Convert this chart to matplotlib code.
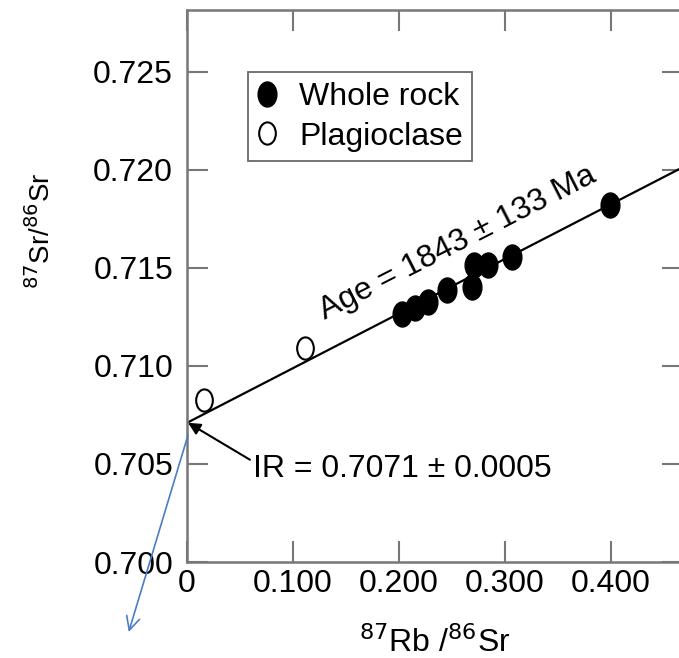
import numpy as np
import matplotlib
matplotlib.use("Agg")
import matplotlib.pyplot as plt
from matplotlib.path import Path
from matplotlib.transforms import Affine2D

plt.rcParams['font.family'] = ['Liberation Sans', 'DejaVu Sans']

# data
wr_x = [0.203, 0.2155, 0.227, 0.2457, 0.269, 0.271, 0.2836, 0.307, 0.399]
wr_y = [0.71265, 0.71296, 0.71327, 0.71388, 0.71403, 0.71515, 0.71515, 0.71556, 0.71821]
pl_x = [0.016, 0.1115]
pl_y = [0.70827, 0.71092]
fit_x = [0.0, 0.47]
fit_y = [0.7071, 0.72020]

xticks = [0, 0.1, 0.2, 0.3, 0.4]
xlabels = ['0', '0.100', '0.200', '0.300', '0.400']
yticks = [0.700, 0.705, 0.710, 0.715, 0.720, 0.725]
ylabels = ['0.700', '0.705', '0.710', '0.715', '0.720', '0.725']

# ellipse marker, taller than wide
ell = Path.unit_circle().transformed(Affine2D().scale(0.75, 1.0))

W, H = 679, 658
fig = plt.figure(figsize=(W / 100, H / 100), dpi=100)
ax = fig.add_axes([187 / W, 1 - 562 / H, (683 - 187) / W, (562 - 10) / H])

gray = '#777777'
for s in ax.spines.values():
    s.set_color(gray)
    s.set_linewidth(1.8)

ax.plot(fit_x, fit_y, color='black', lw=1.6, zorder=2)
ax.plot(wr_x, wr_y, ls='none', marker=ell, ms=18, mfc='black', mec='black',
        label='Whole rock', zorder=3)
ax.plot(pl_x, pl_y, ls='none', marker=ell, ms=16, mfc='white', mec='black',
        mew=1.5, label='Plagioclase', zorder=3)

ax.set_xlim(0, 0.468)
ax.set_ylim(0.700, 0.72816)
ax.set_xticks(xticks)
ax.set_xticklabels(xlabels)
ax.set_yticks(yticks)
ax.set_yticklabels(ylabels)
ax.tick_params(direction='in', length=15, width=1.5, color=gray,
               top=True, right=True, labelsize=23)
ax.tick_params(axis='y', pad=10)
ax.tick_params(axis='x', pad=5)

ax.set_xlabel(r'$^{87}$Rb /$^{86}$Sr', fontsize=23, labelpad=20)
ax.set_ylabel(r'$^{87}$Sr/$^{86}$Sr', fontsize=20)
ax.yaxis.set_label_coords(-0.265, 0.6)

leg = ax.legend(loc='upper left', bbox_to_anchor=(0.123, 0.887), fontsize=23,
                frameon=True, fancybox=False, handlelength=0.6,
                handletextpad=0.7, borderpad=0.3, labelspacing=0.3,
                borderaxespad=0)
leg.get_frame().set_edgecolor('#444444')
leg.get_frame().set_linewidth(1.3)

ax.text(0.262, 0.7156, 'Age = 1843 \u00b1 133 Ma', fontsize=23,
        rotation=27, rotation_mode='anchor', ha='center', va='bottom')

ax.annotate('IR = 0.7071 \u00b1 0.0005', xy=(0.001, 0.7071),
            xytext=(0.062, 0.70475), fontsize=23, va='center', ha='left',
            arrowprops=dict(arrowstyle='-|>', color='black', lw=1.5,
                            mutation_scale=18, shrinkA=0, shrinkB=0,
                            relpos=(0, 0.75)))

ax.annotate('', xy=(-0.055, 0.69643), xytext=(0.001, 0.70648),
            annotation_clip=False,
            arrowprops=dict(arrowstyle='->', color='#4a7cc9', lw=1.2,
                            mutation_scale=24, shrinkA=0, shrinkB=0))

fig.savefig('out.png', dpi=100)
